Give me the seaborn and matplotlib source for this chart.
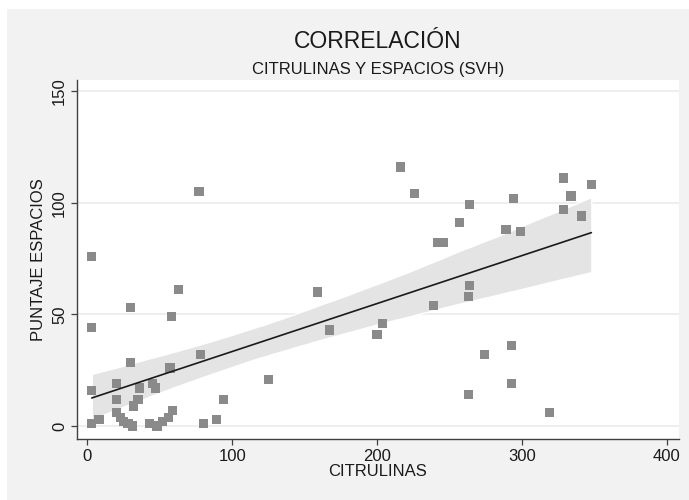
import matplotlib
matplotlib.use("Agg")
import matplotlib.pyplot as plt
from matplotlib.patches import Rectangle
import seaborn as sns
import pandas as pd

citrulinas = [3, 3, 3, 3, 8, 20, 20, 20, 23, 25, 28, 31, 30, 30, 32, 35, 36,
              45, 47, 43, 48, 52, 56, 57, 58, 59, 63, 77, 78, 80, 89, 94, 125,
              159, 167, 200, 204, 216, 226, 239, 242, 246, 257, 264, 264, 263,
              263, 274, 289, 294, 293, 293, 299, 319, 329, 329, 334, 341, 348]
espacios = [76, 44, 16, 1, 3, 19, 12, 6, 4, 2, 1, 0, 53, 28.5, 9, 12, 17,
            19, 17, 1, 0, 2, 4, 26, 49, 7, 61, 105, 32, 1, 3, 12, 21,
            60, 43, 41, 46, 116, 104, 54, 82, 82, 91, 99, 63, 58,
            14, 32, 88, 102, 36, 19, 87, 6, 111, 97, 103, 94, 108]

title = "CORRELACIÓN"
subtitle = "CITRULINAS Y ESPACIOS (SVH)"
xlabel = "CITRULINAS"
ylabel = "PUNTAJE ESPACIOS"
xticks = [0, 100, 200, 300, 400]
yticks = [0, 50, 100, 150]

df = pd.DataFrame({"CITRULINAS": citrulinas, "ESPACIOS": espacios})

sns.set_theme(style="white")
plt.rcParams["font.family"] = ["Liberation Sans", "DejaVu Sans"]

W, H = 689, 500
fig = plt.figure(figsize=(W / 100, H / 100), dpi=100)
fig.patch.set_facecolor("white")
fig.patches.append(Rectangle((7 / W, 0), 1, (H - 9) / H, transform=fig.transFigure,
                             facecolor="#f2f2f2", edgecolor="none", zorder=-10))

ax_l, ax_r = 76.7 / W, 678.7 / W
ax_t, ax_b = 80 / H, 439 / H
ax = fig.add_axes([ax_l, 1 - ax_b, ax_r - ax_l, ax_b - ax_t])
ax.set_facecolor("white")

sns.regplot(data=df, x="CITRULINAS", y="ESPACIOS", ax=ax, seed=0,
            ci=96, n_boot=4000,
            marker="s",
            scatter_kws=dict(s=44, color="#8a8a8a", edgecolors="none", alpha=1, zorder=3),
            line_kws=dict(color="#1a1a1a", lw=1.2, zorder=4),
            color="#d6d6d6")
# lighten CI band
for coll in ax.collections[1:]:
    coll.set_facecolor("#e4e4e4")
    coll.set_alpha(1)
    coll.set_zorder(1)

ax.set_xlim(-7.4, 408.3)
ax.set_ylim(-5.8, 154.9)
ax.set_xticks(xticks)
ax.set_yticks(yticks)
for yv in yticks:
    ax.axhline(yv, color="#ebebeb", lw=1.2, zorder=0)

for s in ["top", "right"]:
    ax.spines[s].set_visible(False)
for s in ["left", "bottom"]:
    ax.spines[s].set_color("#404040")
    ax.spines[s].set_linewidth(1.0)

ax.tick_params(axis="both", which="major", direction="out", length=4, width=0.9,
               color="#404040", labelsize=12, labelcolor="#1a1a1a", pad=3,
               bottom=True, left=True)
plt.setp(ax.get_yticklabels(), rotation=90, va="center")

ax.set_xlabel(xlabel, fontsize=12, color="#1a1a1a", labelpad=0)
ax.set_ylabel(ylabel, fontsize=12, color="#1a1a1a", labelpad=4)

cx = (ax_l + ax_r) / 2
fig.text(cx, 1 - 48 / H, title, ha="center", va="baseline", fontsize=16.5, color="#1a1a1a")
fig.text(cx, 1 - 74 / H, subtitle, ha="center", va="baseline", fontsize=12, color="#1a1a1a")

fig.savefig("out.png", dpi=100, facecolor=fig.get_facecolor())
